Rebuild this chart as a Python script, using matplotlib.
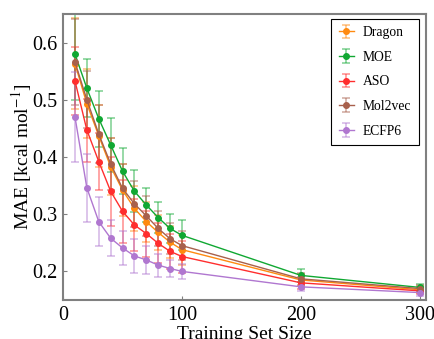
import matplotlib
matplotlib.use("Agg")
import matplotlib.pyplot as plt

# training set sizes
sizes = [10, 20, 30, 40, 50, 60, 70, 80, 90, 100, 200, 300]

# mean absolute error per descriptor
mae_dragon = [0.563, 0.493, 0.437, 0.383, 0.342, 0.310, 0.287, 0.268, 0.251, 0.238, 0.185, 0.168]
mae_moe = [0.580, 0.520, 0.467, 0.421, 0.375, 0.340, 0.316, 0.294, 0.275, 0.263, 0.193, 0.172]
mae_aso = [0.533, 0.447, 0.392, 0.340, 0.305, 0.281, 0.266, 0.249, 0.235, 0.226, 0.180, 0.166]
mae_mol2vec = [0.566, 0.500, 0.440, 0.388, 0.345, 0.318, 0.297, 0.275, 0.257, 0.245, 0.187, 0.170]
mae_ecfp6 = [0.470, 0.346, 0.287, 0.258, 0.241, 0.227, 0.220, 0.211, 0.205, 0.200, 0.173, 0.163]

# standard deviations
sd_dragon = [0.080, 0.060, 0.054, 0.050, 0.045, 0.040, 0.035, 0.030, 0.028, 0.026, 0.010, 0.006]
sd_moe = [0.080, 0.051, 0.049, 0.047, 0.040, 0.037, 0.029, 0.027, 0.026, 0.026, 0.012, 0.006]
sd_aso = [0.060, 0.055, 0.050, 0.060, 0.055, 0.046, 0.040, 0.035, 0.030, 0.028, 0.010, 0.006]
sd_mol2vec = [0.075, 0.050, 0.050, 0.045, 0.042, 0.040, 0.035, 0.030, 0.027, 0.025, 0.010, 0.006]
sd_ecfp6 = [0.078, 0.060, 0.043, 0.031, 0.030, 0.029, 0.024, 0.020, 0.015, 0.013, 0.008, 0.006]

labels = ["Dragon", "MOE", "ASO", "Mol2vec", "ECFP6"]
colors = ["#ff8a10", "#10a832", "#ff2e2e", "#a8604c", "#b077d0"]

plt.rcParams["font.family"] = ["Liberation Serif", "DejaVu Serif"]
plt.rcParams["mathtext.fontset"] = "stix"

fig = plt.figure(figsize=(4.35, 3.39), dpi=100)
ax = fig.add_axes([0.145, 0.115, 0.834, 0.844])

means = [mae_dragon, mae_moe, mae_aso, mae_mol2vec, mae_ecfp6]
sds = [sd_dragon, sd_moe, sd_aso, sd_mol2vec, sd_ecfp6]
for m, s, lab, c in zip(means, sds, labels, colors):
    ax.errorbar(sizes, m, yerr=s, color=c, marker="o", markersize=4,
                linewidth=1, capsize=3, elinewidth=1.2, ecolor=c + "80",
                capthick=1.2, label=lab)

ax.set_xlim(0, 305)
ax.set_ylim(0.15, 0.65)
ax.set_xticks([0, 100, 200, 300])
ax.set_yticks([0.2, 0.3, 0.4, 0.5, 0.6])
ax.set_xlabel("Training Set Size", fontsize=14, labelpad=1)
ax.set_ylabel("MAE [kcal mol$^{-1}$]", fontsize=14, labelpad=-1)
ax.tick_params(direction="in", length=3, color="#808080", labelsize=14.5, pad=4)
for sp in ax.spines.values():
    sp.set_color("#808080")
    sp.set_linewidth(1.5)

leg = ax.legend(loc="upper right", fontsize=9.8, fancybox=False,
                edgecolor="black", framealpha=1, borderpad=0.55,
                labelspacing=0.85, handletextpad=0.7, handlelength=1.1,
                borderaxespad=0, bbox_to_anchor=(0.981, 0.983))
leg.get_frame().set_linewidth(0.8)

fig.savefig("out.png", dpi=100)
